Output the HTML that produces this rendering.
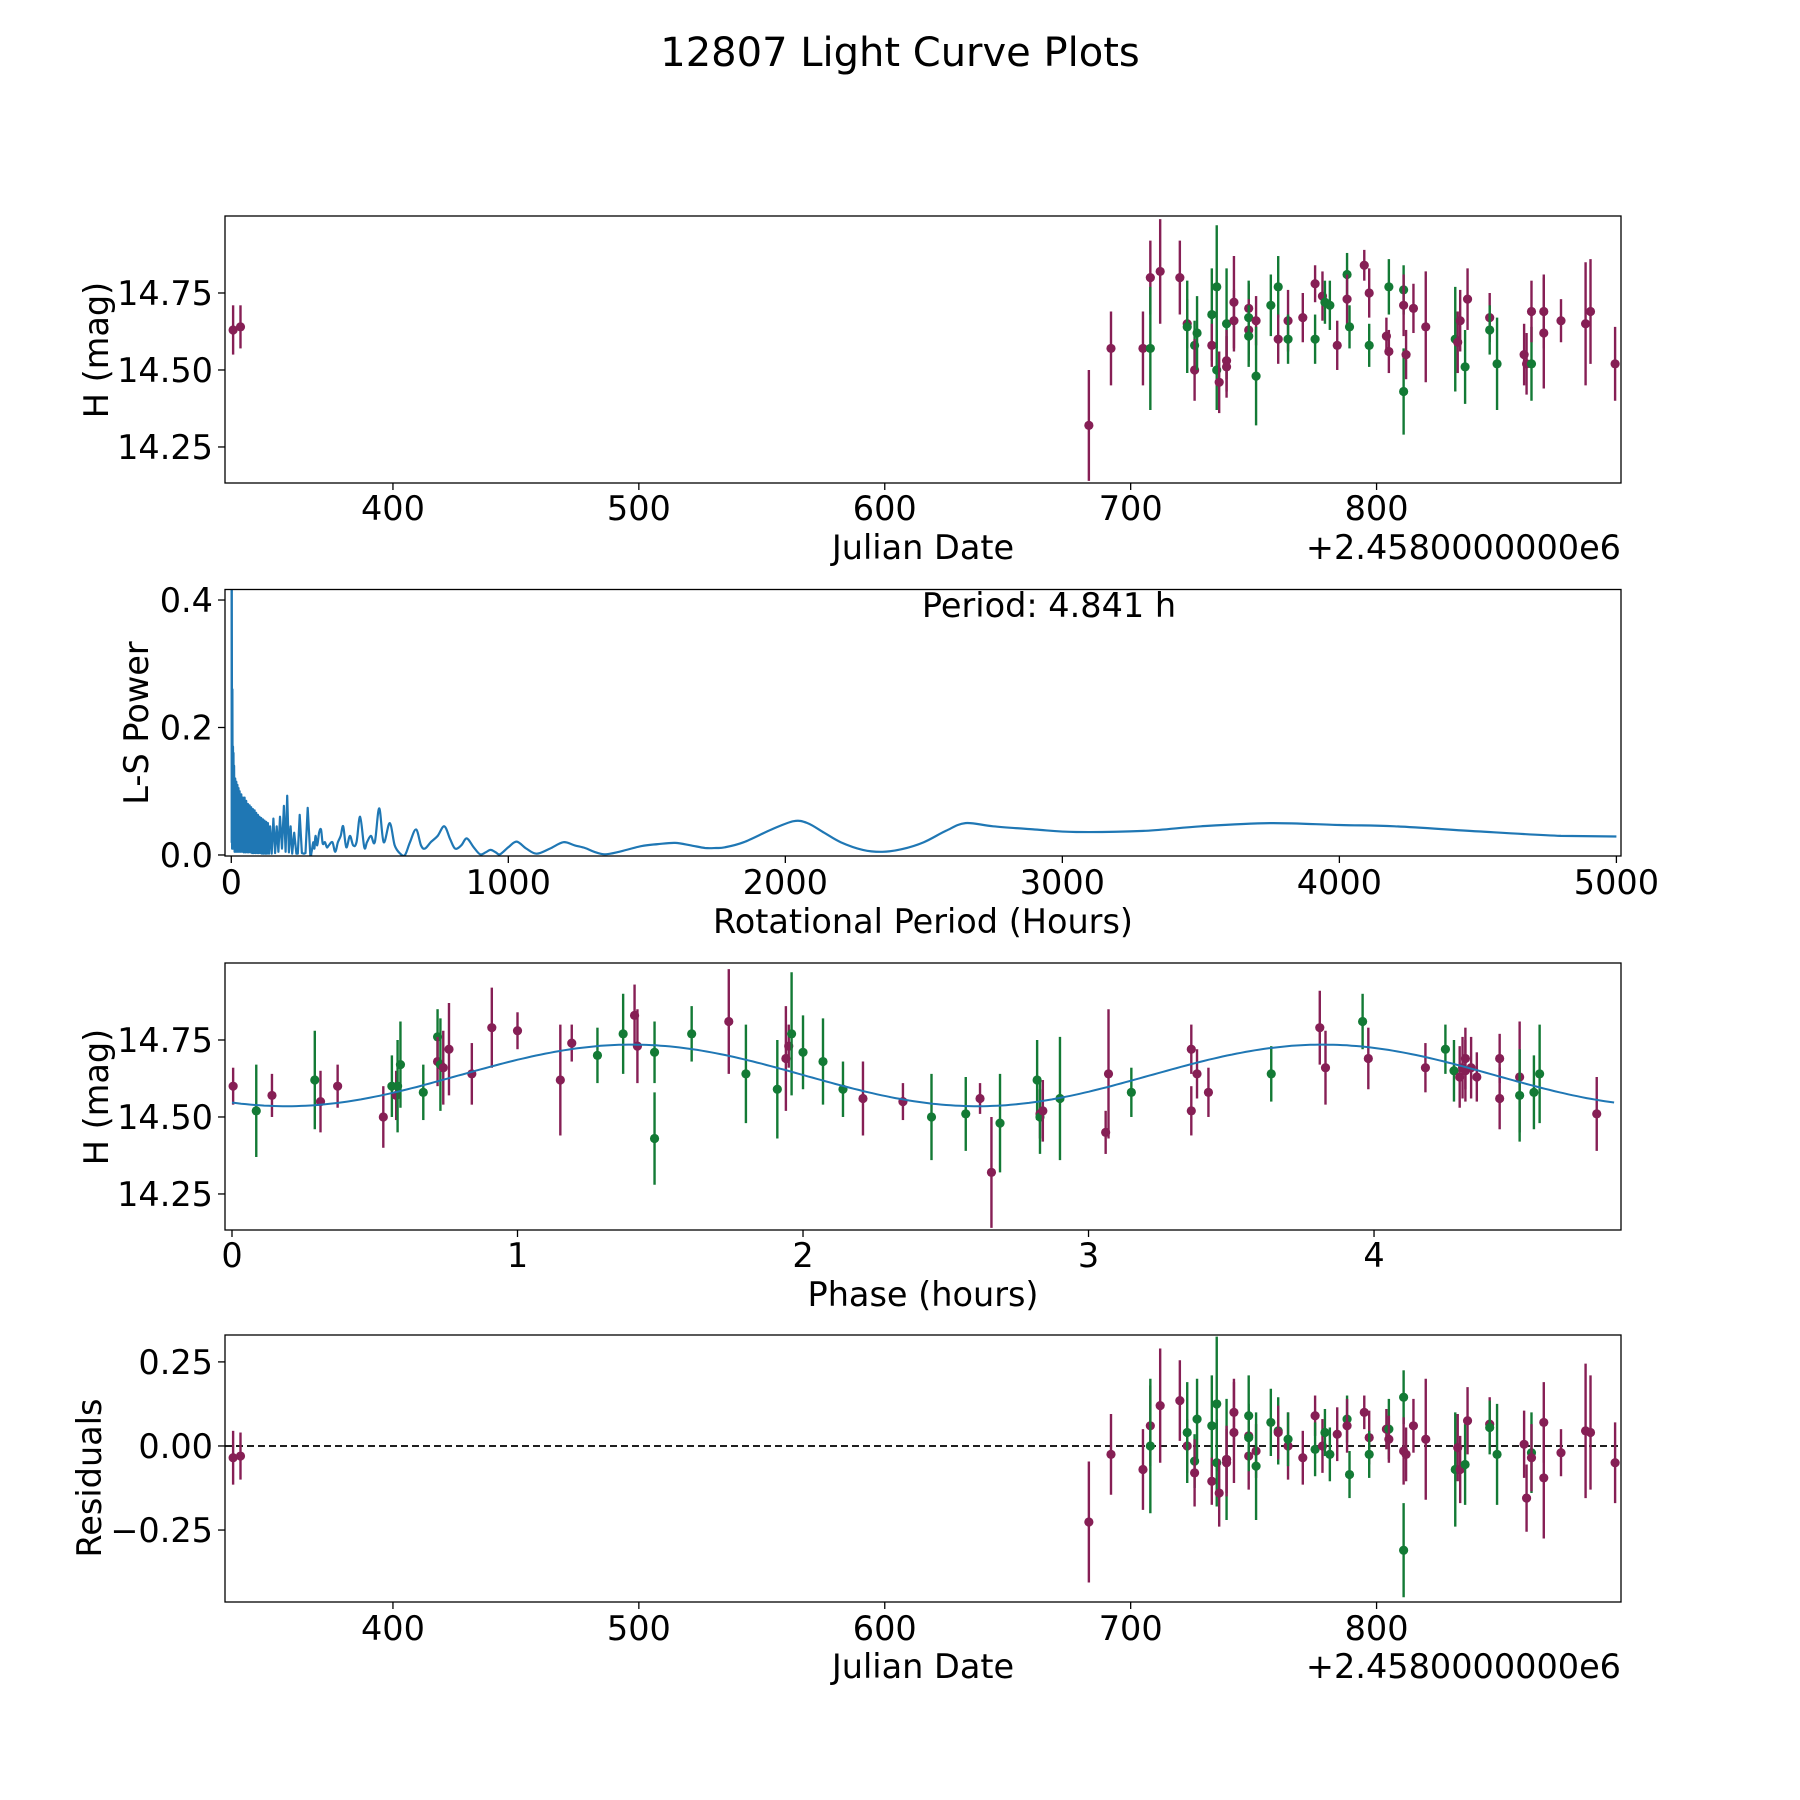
<!DOCTYPE html>
<html><head><meta charset="utf-8"><style>
html,body{margin:0;padding:0;background:#fff;}
svg{display:block;font-family:"DejaVu Sans","Liberation Sans",sans-serif;}
</style></head><body>
<svg id="fig" width="1800" height="1800" viewBox="0 0 1800 1800" xmlns="http://www.w3.org/2000/svg">
<rect width="1800" height="1800" fill="#fff"/>
<text x="900" y="66" font-size="40" text-anchor="middle">12807 Light Curve Plots</text>
</svg>
<script>
// ---- Panel 1 / 4 data: Julian date (offset from 2458000), H mag, errors, filter
const jd = [335,338,683,692,705,708,708,712,720,723,723,726,726,727,733,733,735,735,736,739,739,739,742,742,748,748,748,748,751,751,757,760,760,764,764,770,775,775,778,779,781,784,788,788,789,795,797,797,804,805,805,811,811,811,812,815,820,832,833,834,836,837,846,846,849,860,861,863,863,868,868,875,885,887,897];
const hmag = [14.63,14.64,14.32,14.57,14.57,14.80,14.57,14.82,14.80,14.65,14.64,14.58,14.50,14.62,14.68,14.58,14.77,14.50,14.46,14.65,14.53,14.51,14.72,14.66,14.70,14.67,14.63,14.61,14.66,14.48,14.71,14.77,14.60,14.66,14.60,14.67,14.78,14.60,14.74,14.72,14.71,14.58,14.81,14.73,14.64,14.84,14.75,14.58,14.61,14.77,14.56,14.76,14.71,14.43,14.55,14.70,14.64,14.60,14.59,14.66,14.51,14.73,14.67,14.63,14.52,14.55,14.52,14.52,14.69,14.69,14.62,14.66,14.65,14.69,14.52];
const herr = [.08,.07,.18,.12,.12,.12,.2,.17,.12,.08,.15,.08,.1,.12,.15,.07,.2,.13,.1,.18,.1,.1,.15,.1,.08,.12,.1,.1,.08,.16,.1,.1,.08,.1,.08,.08,.06,.08,.08,.07,.08,.08,.07,.08,.07,.05,.08,.07,.06,.09,.07,.08,.1,.14,.08,.08,.18,.17,.1,.1,.12,.1,.08,.08,.15,.1,.1,.12,.1,.12,.18,.07,.2,.17,.12];
const hfilt = "mmmmmmgmmmggmggmggmgmmmmmgmgmgggmmgmmgmggmgmgmmgmgmgmgmmmgmmgmmggmmgmmmmmmm";
const resid = [-0.035,-0.03,-0.226,-0.025,-0.07,0.06,0.0,0.12,0.135,0.0,0.04,-0.045,-0.08,0.08,0.06,-0.105,0.125,-0.05,-0.14,-0.04,-0.05,-0.04,0.04,0.1,0.03,0.09,-0.03,0.025,-0.015,-0.06,0.07,0.045,0.04,0.0,0.02,-0.035,0.09,-0.01,0.0,0.04,-0.025,0.035,0.08,0.06,-0.085,0.1,0.025,-0.025,0.05,0.05,0.02,0.145,-0.015,-0.31,-0.025,0.06,0.02,-0.07,-0.005,-0.07,-0.055,0.075,0.065,0.055,-0.025,0.005,-0.155,-0.02,-0.035,0.07,-0.095,-0.02,0.045,0.04,-0.05];
const jdTicks = [400,500,600,700,800];
const magTicks = [14.25,14.50,14.75];
const magTickLabels = ["14.25","14.50","14.75"];
const resTicks = [-0.25,0,0.25];
const resTickLabels = ["\u22120.25","0.00","0.25"];

// ---- Panel 2 data: Lomb-Scargle periodogram
const lsPeriod = [
0.5,1,1.5,2,3,4,5,6,7,8,
9,10,12,14,16,18,20,22,24,26,
28,30,33,36,39,42,45,48,51,54,
57,60,63,66,69,72,75,78,81,84,
87,90,93,96,99,102,105,108,111,114,
117,120,123,126,129,132,136,140,146,152,
158,164,170,176,183,190,196,202,208,214,
220,227,235,240,247,255,262,268,276,285,
290,296,300,304,310,317,324,330,338,345,
352,365,375,385,395,404,415,428,440,452,
465,480,490,504,518,534,550,572,590,610,
627,645,667,685,699,720,745,769,790,808,
830,850,875,898,918,936,955,970,1000,1030,
1065,1102,1150,1199,1240,1277,1310,1349,1400,1481,
1540,1602,1660,1710,1750,1782,1850,1950,2030,2080,
2140,2200,2280,2350,2420,2500,2580,2650,2750,2900,
3050,3300,3500,3750,4000,4200,4500,4800,5000];
const lsPower = [
0.45,0.45,0.02,0.42,0.01,0.26,0.01,0.17,0.01,0.16,
0.01,0.14,0.005,0.12,0.005,0.115,0.005,0.11,0.005,0.105,
0.005,0.10,0.005,0.095,0.005,0.09,0.004,0.09,0.004,0.085,
0.004,0.08,0.004,0.078,0.004,0.075,0.003,0.072,0.003,0.07,
0.003,0.066,0.003,0.063,0.003,0.06,0.003,0.058,0.002,0.056,
0.002,0.054,0.002,0.052,0.002,0.05,0.002,0.045,0.002,0.057,
0.003,0.045,0.005,0.06,0.01,0.077,0.005,0.093,0.004,0.045,
0.002,0.035,0.002,0.002,0.063,0.003,0.002,0.003,0.074,0.002,
0.005,0.02,0.01,0.03,0.015,0.035,0.04,0.018,0.02,0.012,
0.015,0.02,0.005,0.02,0.03,0.045,0.012,0.03,0.015,0.02,
0.06,0.012,0.02,0.03,0.02,0.073,0.02,0.05,0.015,0.002,
0.0,0.02,0.04,0.015,0.01,0.02,0.03,0.045,0.025,0.01,
0.015,0.026,0.012,0.001,0.004,0.008,0.004,0.001,0.012,0.021,
0.01,0.002,0.01,0.02,0.015,0.011,0.005,0.001,0.005,0.014,
0.017,0.019,0.015,0.011,0.011,0.012,0.02,0.04,0.053,0.05,
0.035,0.02,0.008,0.005,0.009,0.02,0.038,0.05,0.045,0.04,
0.036,0.038,0.045,0.05,0.047,0.045,0.037,0.03,0.029];
const lsTicks = [0,1000,2000,3000,4000,5000];
const powTicks = [0,0.2,0.4];
const powTickLabels = ["0.0","0.2","0.4"];
const bestPeriod = ["4.841"];

// ---- Panel 3 data: phase-folded light curve
const phase = [0.004,0.085,0.14,0.29,0.31,0.37,0.53,0.56,0.575,0.58,0.59,0.67,0.72,0.72,0.73,0.74,0.76,0.84,0.91,1.0,1.15,1.19,1.28,1.37,1.41,1.42,1.48,1.48,1.61,1.74,1.80,1.91,1.94,1.95,1.96,2.0,2.07,2.14,2.21,2.35,2.45,2.57,2.62,2.66,2.69,2.82,2.83,2.83,2.84,2.9,3.06,3.07,3.15,3.36,3.36,3.38,3.42,3.64,3.81,3.83,3.96,3.98,4.18,4.25,4.28,4.30,4.31,4.32,4.32,4.34,4.36,4.44,4.44,4.51,4.51,4.56,4.58,4.78];
const pmag = [14.60,14.52,14.57,14.62,14.55,14.60,14.50,14.60,14.57,14.60,14.67,14.58,14.76,14.68,14.67,14.66,14.72,14.64,14.79,14.78,14.62,14.74,14.70,14.77,14.83,14.73,14.71,14.43,14.77,14.81,14.64,14.59,14.69,14.73,14.77,14.71,14.68,14.59,14.56,14.55,14.50,14.51,14.56,14.32,14.48,14.62,14.51,14.50,14.52,14.56,14.45,14.64,14.58,14.72,14.52,14.64,14.58,14.64,14.79,14.66,14.81,14.69,14.66,14.72,14.65,14.63,14.66,14.69,14.65,14.66,14.63,14.69,14.56,14.63,14.57,14.58,14.64,14.51];
const perr = [.06,.15,.07,.16,.1,.07,.1,.1,.08,.15,.14,.09,.09,.08,.15,.12,.15,.1,.13,.06,.18,.06,.09,.13,.1,.12,.1,.15,.09,.17,.16,.16,.17,.07,.2,.12,.14,.09,.12,.06,.14,.12,.05,.18,.16,.13,.08,.12,.1,.2,.07,.21,.08,.08,.08,.08,.08,.09,.12,.12,.09,.1,.08,.08,.1,.1,.1,.1,.1,.1,.08,.08,.1,.18,.15,.12,.16,.12];
const pfilt = "mgmgmmmgmggggmgmmmmmmmggmmgggmggmmggggmmggmmggmgmgmmgmmmmgmmgmmggmmmmmmmmmgggm";
const phTicks = [0,1,2,3,4];
const modelParams = [14.635, 0.10, 4.841, 0.795]; // mean, amplitude, period(h), phase offset

const NS = "http://www.w3.org/2000/svg";
const svg = document.getElementById("fig");
const C_M = "#861f55", C_G = "#137a35", C_B = "#1f77b4";
const FS = 33.5;

function el(tag, attrs, parent) {
  const e = document.createElementNS(NS, tag);
  for (const k in attrs) e.setAttribute(k, attrs[k]);
  (parent || svg).appendChild(e);
  return e;
}
function scale(d0, d1, r0, r1) { return v => r0 + (v - d0) / (d1 - d0) * (r1 - r0); }

const L = 225, R = 1621;
function makePanel(id, top, bottom) {
  const g = el("g", {});
  
  
  const cp = el("clipPath", {id: "clip-" + id}, g);
  el("rect", {x: L, y: top, width: R - L, height: bottom - top}, cp);
  const data = el("g", {"clip-path": "url(#clip-" + id + ")"}, g);
  
  
  return {g, data};
}
function frame(g, top, bottom) {
  const f = el("rect", {x: L, y: top, width: R - L, height: bottom - top, fill: "none", stroke: "#000", "stroke-width": 1.3}, g);
  
  
}
function xTicks(g, ticks, labels, xs, bottom, ly) {
  ticks.forEach((t, i) => {
    const x = xs(t);
    el("line", {x1: x, x2: x, y1: bottom, y2: bottom + 7, stroke: "#000", "stroke-width": 1.3}, g);
    const tx = el("text", {x: x, y: ly, "font-size": FS, "text-anchor": "middle"}, g);
    
    
    tx.textContent = labels[i];
  });
}
function yTicks(g, ticks, labels, ys) {
  ticks.forEach((t, i) => {
    const y = ys(t);
    el("line", {x1: L - 7, x2: L, y1: y, y2: y, stroke: "#000", "stroke-width": 1.3}, g);
    const tx = el("text", {x: L - 12, y: y + 12, "font-size": FS, "text-anchor": "end"}, g);
    
    
    tx.textContent = labels[i];
  });
}
function label(g, txt, x, y, rot, name, anchor) {
  const t = el("text", {x: x, y: y, "font-size": FS, "text-anchor": anchor || "middle"}, g);
  if (rot) t.setAttribute("transform", "rotate(-90 " + x + " " + y + ")");
  
  
  t.textContent = txt;
}
function errPoints(parent, xs, ys, xv, yv, ev, fv, name) {
  for (let i = 0; i < Math.min(xv.length, yv.length); i++) {
    const c = fv[i] === "g" ? C_G : C_M;
    const x = xs(xv[i]), y = ys(yv[i]);
    const e = ev[i] || 0.08;
    const ln = el("line", {x1: x, x2: x, y1: ys(yv[i] + e), y2: ys(yv[i] - e), stroke: c, "stroke-width": 2.4}, parent);
    
    
    const p = el("circle", {cx: x, cy: y, r: 4.6, fill: c}, parent);
    
    
  }
}

// Panel 1
(function () {
  const top = 216, bottom = 483;
  const xs = scale(331.7, 899.4, L, R), ys = scale(14.133, 15.0, bottom, top);
  const p = makePanel("light-curve-panel", top, bottom);
  errPoints(p.data, xs, ys, jd, hmag, herr, hfilt, "observation");
  frame(p.g, top, bottom);
  xTicks(p.g, jdTicks, jdTicks.map(String), xs, bottom, 520);
  yTicks(p.g, magTicks, magTickLabels, ys);
  label(p.g, "Julian Date", 923, 559, false, "x-axis-title");
  label(p.g, "+2.4580000000e6", R, 559, false, "x-axis-offset", "end");
  label(p.g, "H (mag)", 108, 350, true, "y-axis-title");
})();

// Panel 2
(function () {
  const top = 589.5, bottom = 856;
  const xs = scale(-22.7, 5016.6, L, R), ys = scale(-0.0016, 0.4165, bottom, top);
  const p = makePanel("periodogram-panel", top, bottom);
  const n = Math.min(lsPeriod.length, lsPower.length);
  const P = [];
  for (let i = 0; i < n; i++) P.push([xs(lsPeriod[i]), ys(lsPower[i])]);
  let d = "M" + P[0][0].toFixed(1) + " " + P[0][1].toFixed(1);
  for (let i = 1; i < n; i++) {
    if (lsPeriod[i] < 290 || i === n - 1) { d += "L" + P[i][0].toFixed(1) + " " + P[i][1].toFixed(1); continue; }
    const p0 = P[i - 2] || P[i - 1], p1 = P[i - 1], p2 = P[i], p3 = P[i + 1];
    const c1x = p1[0] + (p2[0] - p0[0]) / 6, c1y = p1[1] + (p2[1] - p0[1]) / 6;
    const c2x = p2[0] - (p3[0] - p1[0]) / 6, c2y = p2[1] - (p3[1] - p1[1]) / 6;
    d += "C" + c1x.toFixed(1) + " " + c1y.toFixed(1) + " " + c2x.toFixed(1) + " " + c2y.toFixed(1) + " " + p2[0].toFixed(1) + " " + p2[1].toFixed(1);
  }
  const path = el("path", {d: d, fill: "none", stroke: C_B, "stroke-width": 2.2, "stroke-linejoin": "round"}, p.data);
  
  
  frame(p.g, top, bottom);
  xTicks(p.g, lsTicks, lsTicks.map(String), xs, bottom, 894);
  yTicks(p.g, powTicks, powTickLabels, ys);
  label(p.g, "Rotational Period (Hours)", 923, 933, false, "x-axis-title");
  label(p.g, "L-S Power", 148, 723, true, "y-axis-title");
  label(p.g, "Period: " + bestPeriod[0] + " h", 1049, 617, false, "period-annotation");
})();

// Panel 3
(function () {
  const top = 963, bottom = 1230;
  const xs = scale(-0.0245, 4.865, L, R), ys = scale(14.133, 15.0, bottom, top);
  const p = makePanel("phase-panel", top, bottom);
  errPoints(p.data, xs, ys, phase, pmag, perr, pfilt, "phased-observation");
  const [m0, amp, per, off] = modelParams;
  let d = "";
  for (let i = 0; i <= 300; i++) {
    const ph = per * i / 300;
    const v = m0 + amp * Math.sin(2 * Math.PI * (ph - off) / (per / 2));
    d += (i ? "L" : "M") + xs(ph).toFixed(1) + " " + ys(v).toFixed(1);
  }
  const path = el("path", {d: d, fill: "none", stroke: C_B, "stroke-width": 2}, p.data);
  
  
  frame(p.g, top, bottom);
  xTicks(p.g, phTicks, phTicks.map(String), xs, bottom, 1267);
  yTicks(p.g, magTicks, magTickLabels, ys);
  label(p.g, "Phase (hours)", 923, 1306, false, "x-axis-title");
  label(p.g, "H (mag)", 108, 1097, true, "y-axis-title");
})();

// Panel 4
(function () {
  const top = 1335, bottom = 1602;
  const xs = scale(331.7, 899.4, L, R), ys = scale(-0.464, 0.330, bottom, top);
  const p = makePanel("residuals-panel", top, bottom);
  const zl = el("line", {x1: L, x2: R, y1: ys(0), y2: ys(0), stroke: "#000", "stroke-width": 1.8, "stroke-dasharray": "7 4"}, p.data);
  
  
  errPoints(p.data, xs, ys, jd, resid, herr, hfilt, "residual");
  frame(p.g, top, bottom);
  xTicks(p.g, jdTicks, jdTicks.map(String), xs, bottom, 1640);
  yTicks(p.g, resTicks, resTickLabels, ys);
  label(p.g, "Julian Date", 923, 1678, false, "x-axis-title");
  label(p.g, "+2.4580000000e6", R, 1678, false, "x-axis-offset", "end");
  label(p.g, "Residuals", 101, 1478, true, "y-axis-title");
})();
</script>
</body></html>
